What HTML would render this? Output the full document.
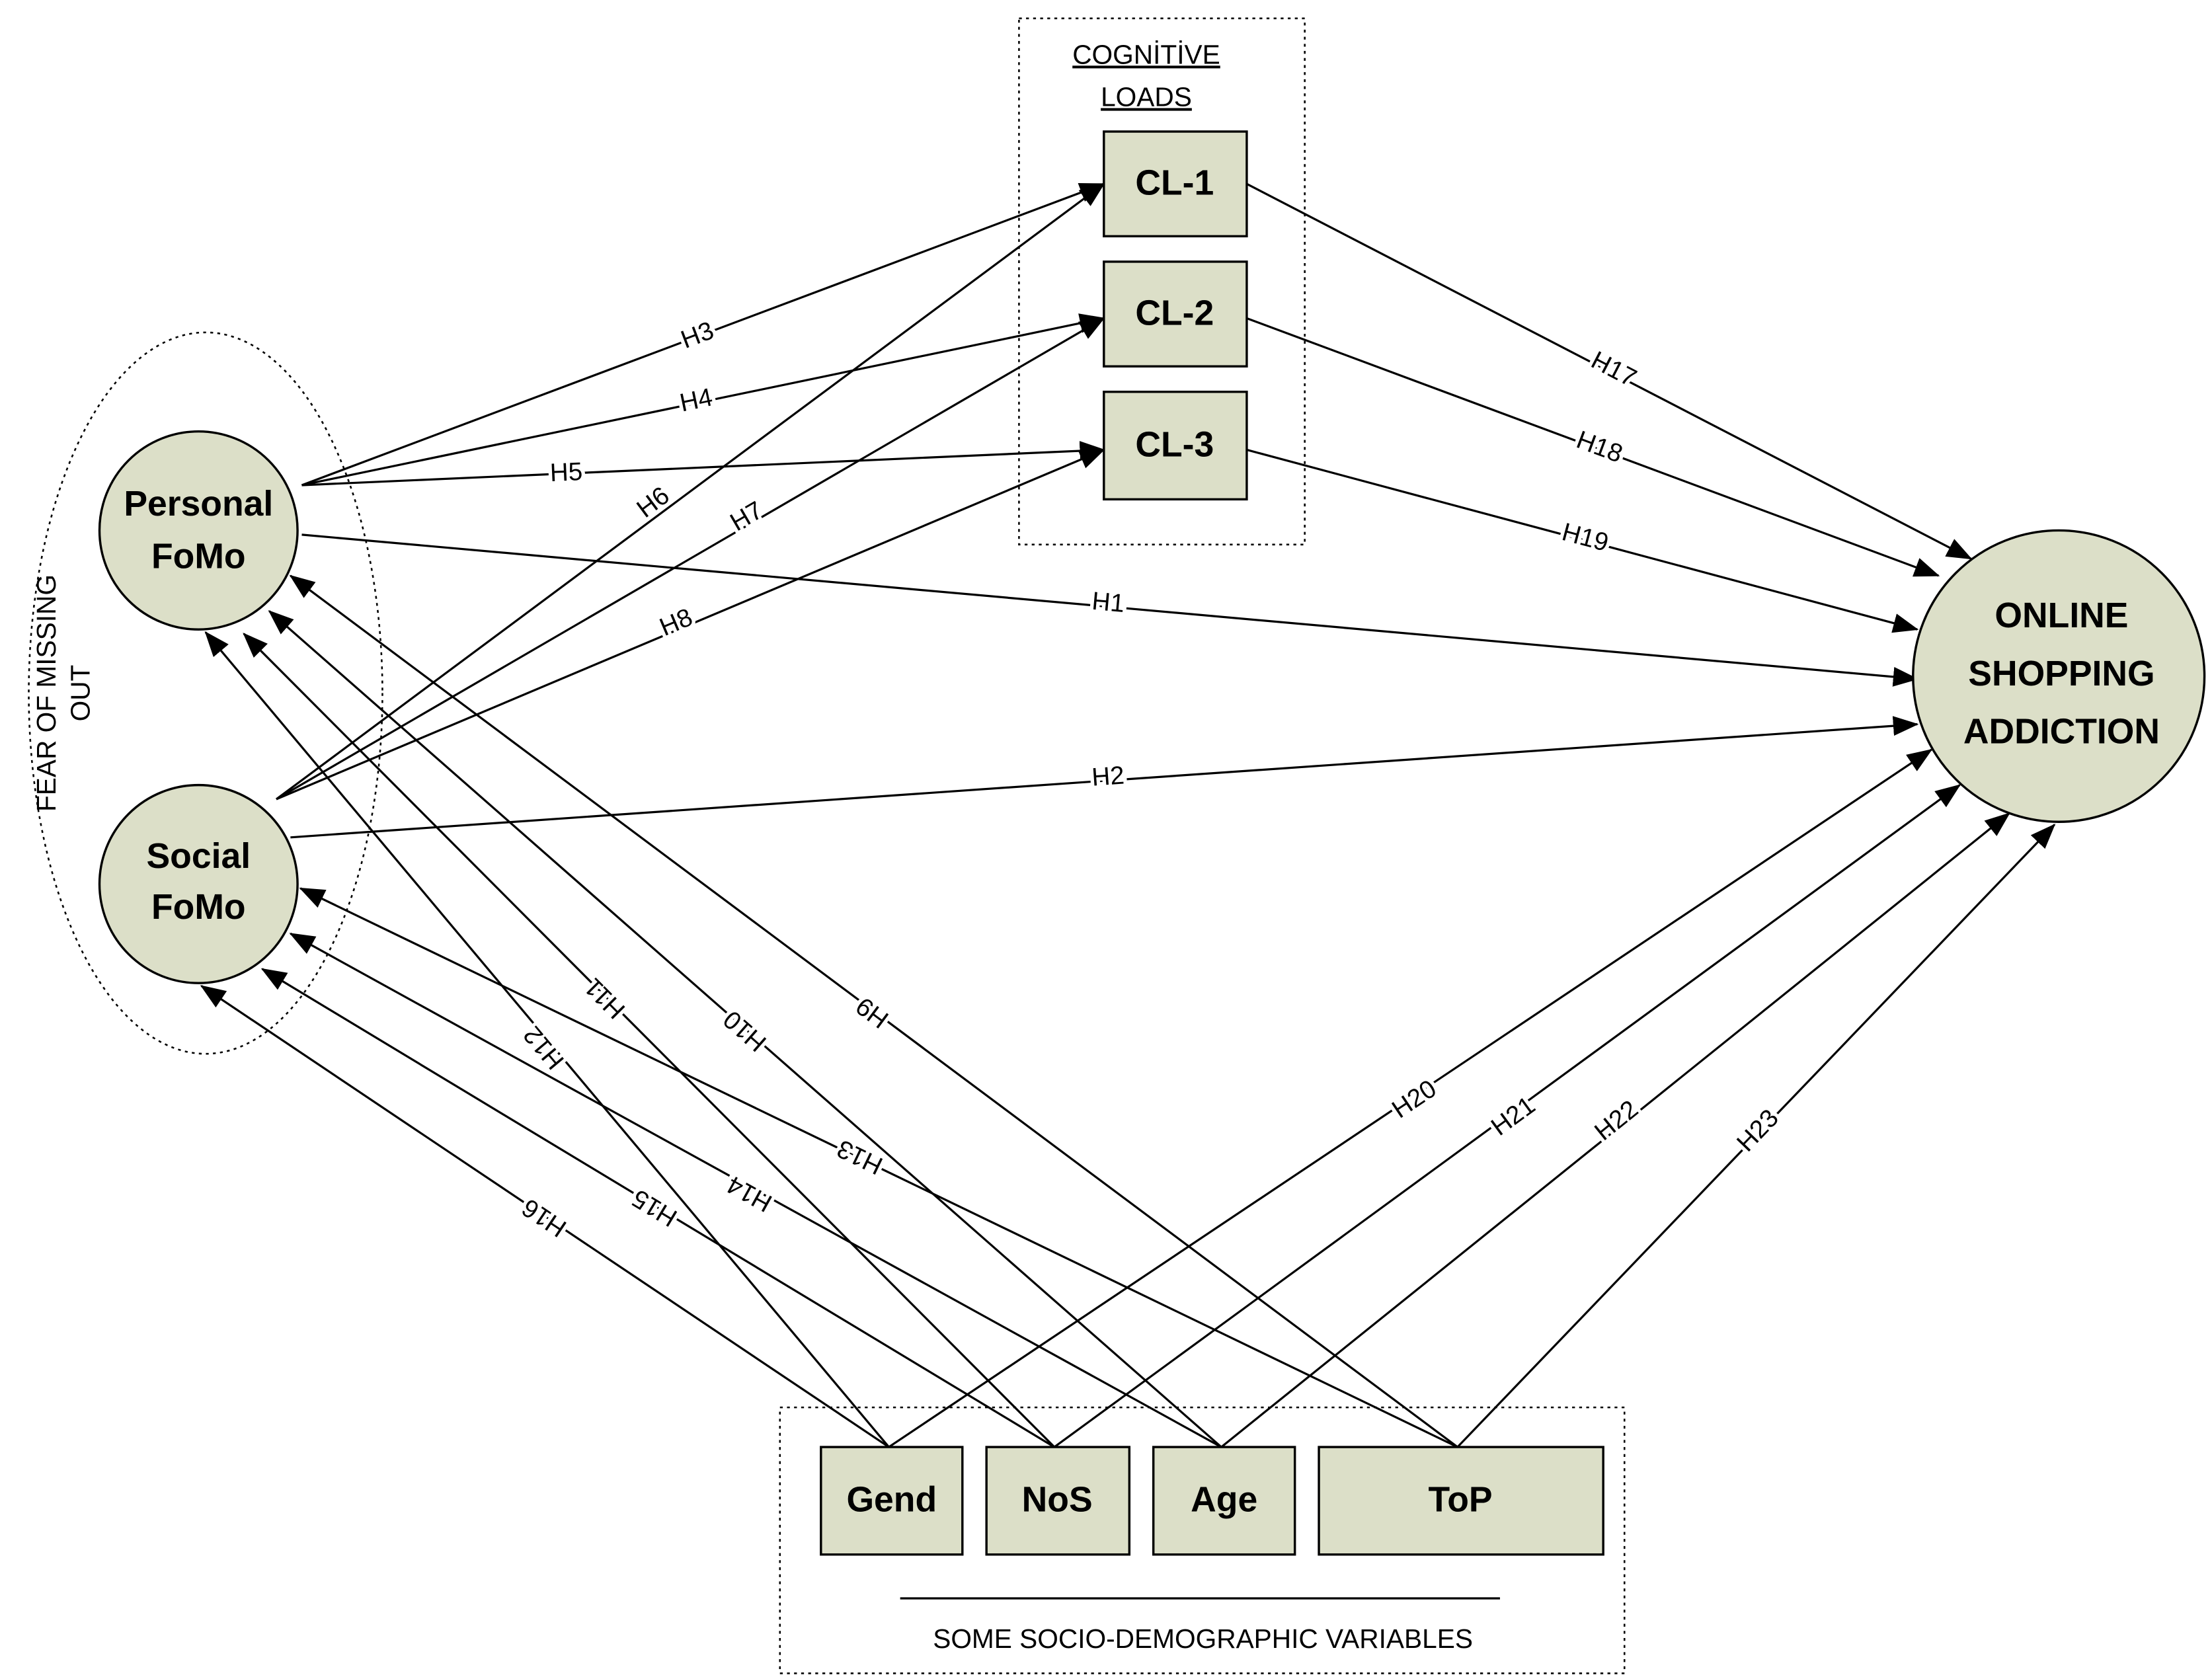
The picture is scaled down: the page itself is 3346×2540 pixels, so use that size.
<!DOCTYPE html>
<html><head><meta charset="utf-8"><style>
html,body{margin:0;padding:0;background:#fff}
svg{display:block}
text{font-family:"Liberation Sans",sans-serif;fill:#000}
.lbl{font-size:18px;paint-order:stroke;stroke:#fff;stroke-width:5px;text-anchor:middle;dominant-baseline:middle}
.node{font-size:25px;font-weight:bold;text-anchor:middle;dominant-baseline:middle}
</style></head><body>
<svg width="3346" height="2540" viewBox="0 0 1563 1187" xmlns="http://www.w3.org/2000/svg">
<defs><marker id="a" markerWidth="10" markerHeight="10" refX="9" refY="5" orient="auto" markerUnits="userSpaceOnUse" viewBox="0 0 10 10"><path d="M0,0 L10,5 L0,10 z" fill="#000"/></marker>
<marker id="b" markerWidth="18" markerHeight="14" refX="17" refY="7" orient="auto" markerUnits="userSpaceOnUse" viewBox="0 0 18 14"><path d="M0,0 L18,7 L0,14 z" fill="#000"/></marker></defs>
<rect width="1563" height="1187" fill="#fff"/>
<!-- dotted containers -->
<rect x="720" y="13" width="202" height="372" fill="none" stroke="#000" stroke-width="1.2" stroke-dasharray="2,3"/>
<ellipse cx="145" cy="490" rx="125" ry="255" fill="none" stroke="#000" stroke-width="1.2" stroke-dasharray="2,3"/>
<rect x="551" y="995" width="597" height="188" fill="none" stroke="#000" stroke-width="1.2" stroke-dasharray="2,3"/>
<text x="810" y="40" font-size="19" text-anchor="middle" dominant-baseline="middle" text-decoration="underline">COGNİTİVE</text>
<text x="810" y="70" font-size="19" text-anchor="middle" dominant-baseline="middle" text-decoration="underline">LOADS</text>
<text transform="translate(45,490) rotate(-90)" font-size="19" text-anchor="middle"><tspan x="0" y="-6">FEAR OF MISSING</tspan><tspan x="0" y="18">OUT</tspan></text>
<line x1="636" y1="1130" x2="1060" y2="1130" stroke="#000" stroke-width="1.5"/>
<text x="850" y="1160" font-size="19" text-anchor="middle" dominant-baseline="middle">SOME SOCIO-DEMOGRAPHIC VARIABLES</text>
<!-- connectors -->
<g stroke="#000" stroke-width="1.5" fill="none" marker-end="url(#b)">
<line x1="213" y1="343" x2="780" y2="130"/>
<line x1="213" y1="343" x2="780" y2="225"/>
<line x1="213" y1="343" x2="780" y2="318"/>
<line x1="213" y1="378" x2="1355" y2="480"/>
<line x1="195" y1="565" x2="780" y2="130"/>
<line x1="195" y1="565" x2="780" y2="225"/>
<line x1="195" y1="565" x2="780" y2="318"/>
<line x1="205" y1="592" x2="1355" y2="512"/>
<line x1="881" y1="130" x2="1393" y2="395"/>
<line x1="881" y1="225" x2="1370" y2="407"/>
<line x1="881" y1="318" x2="1355" y2="445"/>
<line x1="1030" y1="1023" x2="205" y2="407"/>
<line x1="863" y1="1023" x2="190" y2="432"/>
<line x1="745" y1="1023" x2="172" y2="448"/>
<line x1="628" y1="1023" x2="145" y2="447"/>
<line x1="1030" y1="1023" x2="212" y2="628"/>
<line x1="863" y1="1023" x2="205" y2="660"/>
<line x1="745" y1="1023" x2="185" y2="685"/>
<line x1="628" y1="1023" x2="142" y2="697"/>
<line x1="628" y1="1023" x2="1365" y2="530"/>
<line x1="745" y1="1023" x2="1385" y2="555"/>
<line x1="863" y1="1023" x2="1420" y2="575"/>
<line x1="1030" y1="1023" x2="1452" y2="583"/>
</g>
<!-- labels -->
<text class="lbl" transform="translate(493,238) rotate(-20.6)">H3</text>
<text class="lbl" transform="translate(492,284) rotate(-11.8)">H4</text>
<text class="lbl" transform="translate(400,335) rotate(-2.5)">H5</text>
<text class="lbl" transform="translate(783,427) rotate(5.1)">H1</text>
<text class="lbl" transform="translate(462,356) rotate(-36.6)">H6</text>
<text class="lbl" transform="translate(528,366) rotate(-30.2)">H7</text>
<text class="lbl" transform="translate(478,441) rotate(-22.9)">H8</text>
<text class="lbl" transform="translate(783,550) rotate(-4)">H2</text>
<text class="lbl" transform="translate(1140,262) rotate(27.4)">H17</text>
<text class="lbl" transform="translate(1130,317) rotate(20.4)">H18</text>
<text class="lbl" transform="translate(1120,381) rotate(15)">H19</text>
<text class="lbl" transform="translate(617,715) rotate(-143.3)">H9</text>
<text class="lbl" transform="translate(527,728) rotate(-138.7)">H10</text>
<text class="lbl" transform="translate(428,705) rotate(-134.9)">H11</text>
<text class="lbl" transform="translate(385,740) rotate(-130)">H12</text>
<text class="lbl" transform="translate(608,817) rotate(-154.2)">H13</text>
<text class="lbl" transform="translate(530,843) rotate(-151.1)">H14</text>
<text class="lbl" transform="translate(463,853) rotate(-148.9)">H15</text>
<text class="lbl" transform="translate(385,860) rotate(-146.1)">H16</text>
<text class="lbl" transform="translate(1000,778) rotate(-33.8)">H20</text>
<text class="lbl" transform="translate(1070,790) rotate(-36.2)">H21</text>
<text class="lbl" transform="translate(1143,793) rotate(-38.8)">H22</text>
<text class="lbl" transform="translate(1243,800) rotate(-46.2)">H23</text>
<!-- nodes -->
<g fill="#dcdfc8" stroke="#000" stroke-width="1.6">
<rect x="780" y="93" width="101" height="74"/>
<rect x="780" y="185" width="101" height="74"/>
<rect x="780" y="277" width="101" height="76"/>
<circle cx="140" cy="375" r="70"/>
<circle cx="140" cy="625" r="70"/>
<circle cx="1455" cy="478" r="103"/>
<rect x="580" y="1023" width="100" height="76"/>
<rect x="697" y="1023" width="101" height="76"/>
<rect x="815" y="1023" width="100" height="76"/>
<rect x="932" y="1023" width="201" height="76"/>
</g>
<text class="node" x="830" y="131">CL-1</text>
<text class="node" x="830" y="223">CL-2</text>
<text class="node" x="830" y="316">CL-3</text>
<text class="node" x="140" y="358">Personal</text>
<text class="node" x="140" y="395">FoMo</text>
<text class="node" x="140" y="607">Social</text>
<text class="node" x="140" y="643">FoMo</text>
<text class="node" x="1457" y="437" font-size="27">ONLINE</text>
<text class="node" x="1457" y="478" font-size="27">SHOPPING</text>
<text class="node" x="1457" y="519" font-size="27">ADDICTION</text>
<text class="node" x="630" y="1062">Gend</text>
<text class="node" x="747" y="1062">NoS</text>
<text class="node" x="865" y="1062">Age</text>
<text class="node" x="1032" y="1062">ToP</text>
</svg>
</body></html>
